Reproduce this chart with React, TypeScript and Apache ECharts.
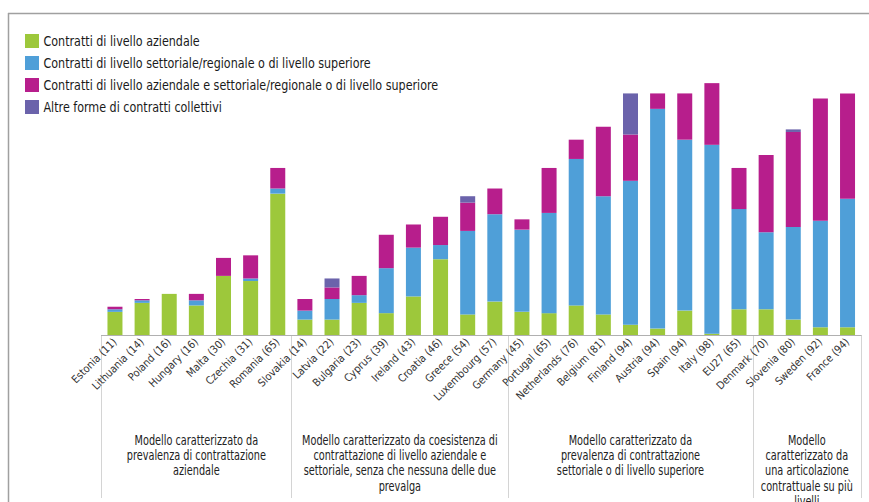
import React, { useEffect, useRef } from "react";
import * as echarts from "echarts";

const countries = [
  "Estonia", "Lithuania", "Poland", "Hungary", "Malta", "Czechia", "Romania",
  "Slovakia", "Latvia", "Bulgaria", "Cyprus", "Ireland", "Croatia", "Greece", "Luxembourg",
  "Germany", "Portugal", "Netherlands", "Belgium", "Finland", "Austria", "Spain", "Italy", "EU27",
  "Denmark", "Slovenia", "Sweden", "France",
];
const totals = [11, 14, 16, 16, 30, 31, 65, 14, 22, 23, 39, 43, 46, 54, 57, 45, 65, 76, 81, 94, 94, 94, 98, 65, 70, 80, 92, 94];

const aziendale = [9, 12.5, 16, 11.5, 23, 21, 55, 6, 6, 12.5, 8.5, 15, 29.5, 8, 13, 9, 8.5, 11.5, 8, 4, 2.5, 9.5, 0.5, 10, 10, 6, 3, 3];
const settoriale = [1, 1, 0, 2, 0, 1, 2, 3.5, 8, 3, 17.5, 19, 5.5, 32.5, 34, 32, 39, 57, 46, 56, 85.5, 66.5, 73.5, 39, 30, 36, 41.5, 50];
const entrambi = [1, 0.5, 0, 2.5, 7, 9, 8, 4.5, 4.5, 7.5, 13, 9, 11, 11, 10, 4, 17.5, 7.5, 27, 18, 6, 18, 24, 16, 30, 37, 47.5, 41];
const altre = [0, 0, 0, 0, 0, 0, 0, 0, 3.5, 0, 0, 0, 0, 2.5, 0, 0, 0, 0, 0, 16, 0, 0, 0, 0, 0, 1, 0, 0];

const seriesNames = [
  "Contratti di livello aziendale",
  "Contratti di livello settoriale/regionale o di livello superiore",
  "Contratti di livello aziendale e settoriale/regionale o di livello superiore",
  "Altre forme di contratti collettivi",
];
const seriesColors = ["#9dc83b", "#4f9fd8", "#b71e8c", "#6b63ab"];

const groupSizes = [7, 8, 9, 4];
const groupLabels = [
  "Modello caratterizzato da\nprevalenza di contrattazione\naziendale",
  "Modello caratterizzato da coesistenza di\ncontrattazione di livello aziendale e\nsettoriale, senza che nessuna delle due\nprevalga",
  "Modello caratterizzato da\nprevalenza di contrattazione\nsettoriale o di livello superiore",
  "Modello\ncaratterizzato da\nuna articolazione\ncontrattuale su più\nlivelli",
];

const W = 869;
const H = 502;
const GRID_LEFT = 101.4;
const GRID_RIGHT = 861.1;
const GRID_TOP = 78;
const AXIS_Y = 335;
const FONT = "'DejaVu Sans Condensed', 'DejaVu Sans', sans-serif";

export default function App() {
  const ref = useRef<HTMLDivElement>(null);

  useEffect(() => {
    document.body.style.margin = "0";
    const chart = echarts.init(ref.current!, undefined, { renderer: "svg" });
    const labels = countries.map((c, i) => `${c} (${totals[i]})`);
    const band = (GRID_RIGHT - GRID_LEFT) / countries.length;

    const graphic: any[] = [];
    graphic.push({ type: "line", shape: { x1: 8, y1: 13.5, x2: W, y2: 13.5 }, style: { stroke: "#a0a0a0", lineWidth: 1.5 } });
    graphic.push({ type: "line", shape: { x1: 8.5, y1: 13, x2: 8.5, y2: H }, style: { stroke: "#a0a0a0", lineWidth: 1.5 } });

    // legend
    seriesNames.forEach((name, i) => {
      const cy = 41 + i * 22;
      graphic.push({ type: "rect", shape: { x: 25, y: cy - 7, width: 14, height: 14 }, style: { fill: seriesColors[i] } });
      graphic.push({
        type: "text",
        x: 43.5,
        y: cy,
        scaleX: 0.855,
        style: { text: name, align: "left", verticalAlign: "middle", fontFamily: FONT, fontSize: 14.5, fill: "#1a1a1a" },
      });
    });

    let start = 0;
    const bounds: number[] = [0];
    groupSizes.forEach((s) => { start += s; bounds.push(start); });
    bounds.forEach((b) => {
      const x = Math.round(GRID_LEFT + b * band) + 0.5;
      graphic.push({ type: "line", shape: { x1: x, y1: AXIS_Y, x2: x, y2: 498 }, style: { stroke: "#d4d4d4", lineWidth: 1 } });
    });
    groupLabels.forEach((t, i) => {
      const cx = GRID_LEFT + ((bounds[i] + bounds[i + 1]) / 2) * band;
      graphic.push({
        type: "text",
        x: cx,
        y: 433,
        scaleX: 0.8,
        style: { text: t, align: "center", verticalAlign: "top", fontFamily: FONT, fontSize: 13.5, lineHeight: 15.2, fill: "#222" },
      });
    });

    const data = [aziendale, settoriale, entrambi, altre];

    chart.setOption({
      animation: false,
      textStyle: { fontFamily: FONT },
      grid: { left: GRID_LEFT, right: W - GRID_RIGHT, top: GRID_TOP, bottom: H - AXIS_Y, containLabel: false },
      xAxis: {
        type: "category",
        data: labels,
        axisTick: { show: false },
        axisLine: { lineStyle: { color: "#b0b0b0", width: 1 } },
        axisLabel: { rotate: 45, margin: 5, fontSize: 10.8, color: "#333", fontFamily: FONT, interval: 0 },
      },
      yAxis: { type: "value", min: 0, max: 100, show: false, splitLine: { show: false } },
      series: data.map((d, i) => ({
        name: seriesNames[i],
        type: "bar",
        stack: "tot",
        barWidth: 15,
        data: d,
        itemStyle: { color: seriesColors[i] },
      })),
      graphic,
    });
    return () => chart.dispose();
  }, []);

  return <div ref={ref} style={{ width: W, height: H }} />;
}
